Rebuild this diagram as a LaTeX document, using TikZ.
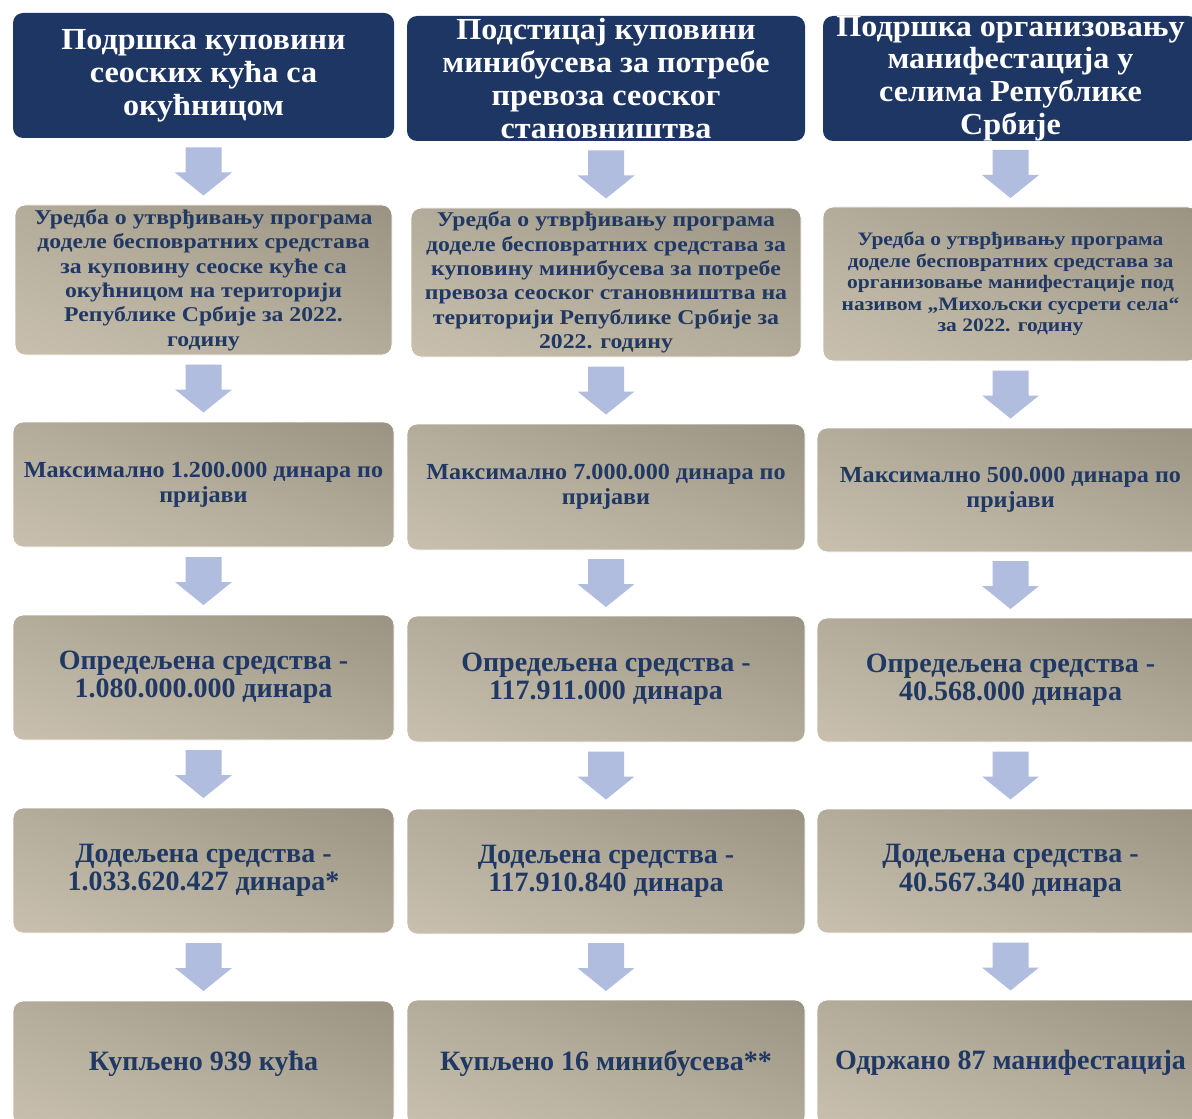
\documentclass[tikz,border=0pt]{standalone}
\usepackage{fontspec}
\setmainfont{Liberation Serif}
\newfontfamily\stretchS[FakeStretch=1.13]{Liberation Serif}
\newfontfamily\stretchM[FakeStretch=1.05]{Liberation Serif}
\usetikzlibrary{calc}
\definecolor{navy}{RGB}{31,56,100}
\definecolor{hdr}{RGB}{30,54,100}
\definecolor{gdark}{RGB}{128,121,107}
\definecolor{gmid}{RGB}{180,172,154}
\definecolor{glight}{RGB}{221,213,193}
\definecolor{arr}{RGB}{176,189,223}
\pgfdeclareverticalshading{boxgrad}{100bp}{color(0bp)=(glight); color(50bp)=(gmid); color(100bp)=(gdark)}
\tikzset{
  hdrshape/.style={fill=hdr, rounded corners=5pt, inner sep=0pt},
  gshape/.style={rounded corners=5pt, draw=white, line width=0.4pt, inner sep=0pt},
  hdrtext/.style={text=white, font=\stretchM\bfseries\fontsize{15.3}{16.4}\selectfont, align=center, inner sep=0pt},
  regtext/.style={text=navy, font=\stretchS\bfseries\fontsize{10.5}{12.2}\selectfont, align=center, inner sep=0pt},
  regtextsmall/.style={text=navy, font=\stretchS\bfseries\fontsize{9.5}{10.8}\selectfont, align=center, inner sep=0pt},
  maxtext/.style={text=navy, font=\stretchM\bfseries\fontsize{11.5}{12.6}\selectfont, align=center, inner sep=0pt},
  bigtext/.style={text=navy, font=\bfseries\fontsize{14}{14.2}\selectfont, align=center, inner sep=0pt},
}
% header box: #1 name, #2 x1, #3 y1, #4 x2, #5 y2, #6 text
\newcommand\hdrbox[6]{%
  \node[hdrshape, minimum width={(#4-#2)*0.5pt}, minimum height={(#5-#3)*0.5pt}] (#1) at ({(#2+#4)/2},{(#3+#5)/2}) {};
  \node[hdrtext] (#1t) at (#1.center) {#6};
}
% gradient box: #1 name, #2 x1, #3 y1, #4 x2, #5 y2, #6 text style, #7 text
\newcommand\gradbox[7]{%
  \pgfmathsetmacro\gbw{(#4-#2)/200}%
  \pgfmathsetmacro\gbh{(#5-#3)/200}%
  \pgfmathsetmacro\gbcx{(#2+#4)/4}%
  \pgfmathsetmacro\gbcy{-(#3+#5)/4}%
  \begin{scope}
    \clip[rounded corners=5pt] (#2,#3) rectangle (#4,#5);
    \begin{scope}[transform canvas={cm={\gbw,-\gbh,\gbw,\gbh,(\gbcx pt,\gbcy pt)}}]
      \shade[shading=boxgrad] (-50pt,-50pt) rectangle (50pt,50pt);
    \end{scope}
  \end{scope}
  \node[gshape, minimum width={(#4-#2)*0.5pt}, minimum height={(#5-#3)*0.5pt}] (#1) at ({(#2+#4)/2},{(#3+#5)/2}) {};
  \node[#6] (#1t) at (#1.center) {#7};
}
% #1 name, #2 from node, #3 to node
\newcommand\flowarr[3]{%
  \coordinate (#1) at ($(#2.south)!0.5!(#3.north)$);
  \fill[arr] ($(#1)+(-18,-24)$) -- ($(#1)+(18,-24)$) -- ($(#1)+(18,1)$) -- ($(#1)+(28.5,1)$) -- ($(#1)+(0,24)$) -- ($(#1)+(-28.5,1)$) -- ($(#1)+(-18,1)$) -- cycle;
}
\begin{document}
\begin{tikzpicture}[x=0.5pt, y=-0.5pt]
\useasboundingbox (0,0) rectangle (1192,1118);
\fill[white] (0,0) rectangle (1192,1118);
\clip (0,0) rectangle (1192,1118);
% column 1
\hdrbox{a1}{13}{13}{394}{138}{Подршка куповини\\сеоских кућа са\\окућницом}
\gradbox{a2}{15}{205}{392}{355}{regtext}{Уредба о утврђивању програма\\доделе бесповратних средстава\\за куповину сеоске куће са\\окућницом на територији\\Републике Србије за 2022.\\годину}
\gradbox{a3}{13}{422}{394}{547}{maxtext}{Максимално 1.200.000 динара по\\пријави}
\gradbox{a4}{13}{615}{394}{740}{bigtext}{Опредељена средства -\\1.080.000.000 динара}
\gradbox{a5}{13}{808}{394}{933}{bigtext}{Додељена средства -\\1.033.620.427 динара*}
\gradbox{a6}{13}{1001}{394}{1126}{bigtext}{Купљено 939 кућа}
% column 2
\hdrbox{b1}{407}{16}{805}{141}{Подстицај куповини\\минибусева за потребе\\превоза сеоског\\становништва}
\gradbox{b2}{411}{208}{801}{357}{regtext}{Уредба о утврђивању програма\\доделе бесповратних средстава за\\куповину минибусева за потребе\\превоза сеоског становништва на\\територији Републике Србије за\\2022. годину}
\gradbox{b3}{407}{424}{805}{550}{maxtext}{Максимално 7.000.000 динара по\\пријави}
\gradbox{b4}{407}{616}{805}{742}{bigtext}{Опредељена средства -\\117.911.000 динара}
\gradbox{b5}{407}{809}{805}{934}{bigtext}{Додељена средства -\\117.910.840 динара}
\gradbox{b6}{407}{1000}{805}{1126}{bigtext}{Купљено 16 минибусева**}
% column 3
\hdrbox{c1}{823}{16}{1198}{141}{Подршка организовању\\манифестација у\\селима Републике\\Србије}
\gradbox{c2}{823}{207}{1198}{361}{regtextsmall}{Уредба о утврђивању програма\\доделе бесповратних средстава за\\организовање манифестације под\\називом „Михољски сусрети села“\\за 2022. годину}
\gradbox{c3}{817}{428}{1204}{552}{maxtext}{Максимално 500.000 динара по\\пријави}
\gradbox{c4}{817}{618}{1204}{742}{bigtext}{Опредељена средства -\\40.568.000 динара}
\gradbox{c5}{817}{809}{1204}{933}{bigtext}{Додељена средства -\\40.567.340 динара}
\gradbox{c6}{817}{1000}{1204}{1126}{bigtext}{Одржано 87 манифестација}
% arrows
\flowarr{pa1}{a1}{a2}\flowarr{pa2}{a2}{a3}\flowarr{pa3}{a3}{a4}\flowarr{pa4}{a4}{a5}\flowarr{pa5}{a5}{a6}
\flowarr{pb1}{b1}{b2}\flowarr{pb2}{b2}{b3}\flowarr{pb3}{b3}{b4}\flowarr{pb4}{b4}{b5}\flowarr{pb5}{b5}{b6}
\flowarr{pc1}{c1}{c2}\flowarr{pc2}{c2}{c3}\flowarr{pc3}{c3}{c4}\flowarr{pc4}{c4}{c5}\flowarr{pc5}{c5}{c6}
\end{tikzpicture}
\end{document}
